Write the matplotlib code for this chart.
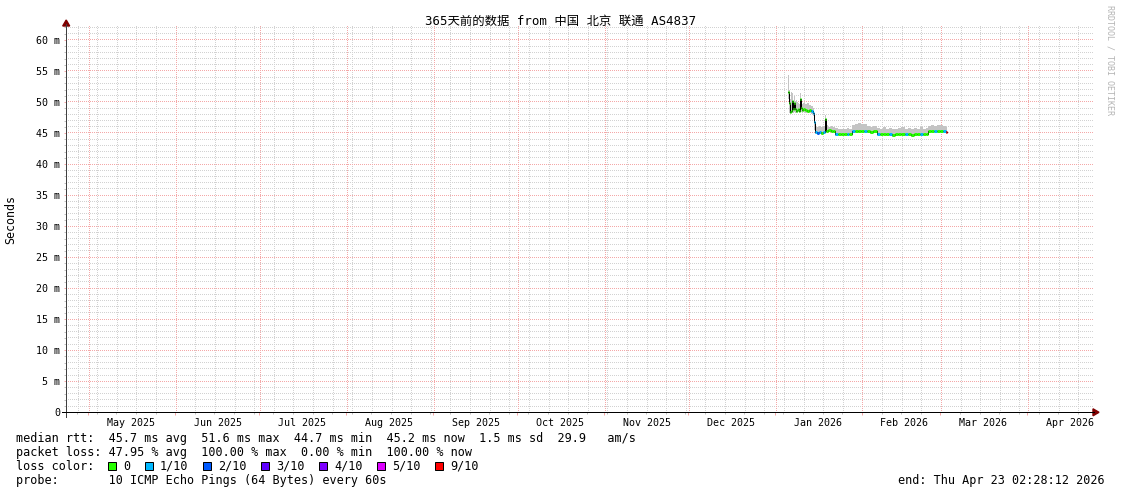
import matplotlib
matplotlib.use("Agg")
import numpy as np
import matplotlib.pyplot as plt
import matplotlib.dates as mdates
from matplotlib.lines import Line2D
from matplotlib.patches import Polygon, Rectangle
from matplotlib.transforms import IdentityTransform
from datetime import datetime, timedelta

# ---------------- data ----------------
title = "365天前的数据 from 中国 北京 联通 AS4837"
range_start = datetime(2025, 4, 23, 2, 28, 12)
range_end = datetime(2026, 4, 23, 2, 28, 12)

# sample times: days after 2026-01-01 00:00 (each value holds until the next sample)
day_2026 = [4.6, 5.0, 5.3, 5.7, 6.0, 6.4, 6.7, 7.1, 7.4, 7.8, 8.1, 8.5, 8.9, 9.2, 9.6,
            10.0, 10.7, 11.4, 12.1, 12.8, 13.5, 13.9, 14.2, 14.9, 15.6, 16.4, 17.1,
            17.8, 18.2, 19.0, 19.8, 20.6, 21.4, 22.5, 23.5, 24.6, 25.6, 26.5, 27.4,
            28.5, 29.6, 30.7, 31.8, 32.9, 34.0, 35.1, 36.3, 37.4, 38.5, 39.6, 40.7,
            41.8, 42.9, 44.0, 45.1, 46.2, 47.3, 48.4, 49.5, 50.6, 51.7, 52.8, 53.9,
            54.5, 55.6, 56.7, 57.8, 58.9, 60.0, 60.9]
last_day = 61.3
median_ms = [51.6, 49.8, 48.4, 48.6, 50.2, 48.8, 49.8, 48.9, 48.6, 48.7, 48.9, 48.6, 50.5, 49.0, 48.7,
             48.8, 48.7, 48.6, 48.7, 48.5, 48.2, 46.8, 45.1, 45.0, 45.1, 45.0, 45.1,
             47.3, 45.4, 45.5, 45.3, 45.4, 44.8, 44.8, 44.9, 44.8, 44.8, 44.9, 45.3,
             45.3, 45.4, 45.3, 45.3, 45.3, 45.2, 45.3, 44.8, 44.8, 44.9, 44.8, 44.8,
             44.7, 44.8, 44.8, 44.9, 44.8, 44.8, 44.7, 44.8, 44.8, 44.9, 44.8, 44.9,
             45.3, 45.4, 45.3, 45.3, 45.4, 45.3, 45.2]
loss_tenths = [0, 0, 0, 0, 0, 0, 0, 0, 0, 0, 0, 0, 0, 0, 0,
               0, 0, 0, 0, 1, 1, 1, 1, 2, 1, 0, 1,
               0, 0, 0, 0, 0, 1, 0, 0, 0, 1, 0, 1,
               0, 0, 0, 1, 0, 0, 0, 1, 0, 0, 0, 1,
               0, 0, 0, 0, 1, 0, 0, 0, 0, 1, 0, 0,
               0, 0, 1, 0, 0, 1, 9]
smoke_lo = [50.5, 48.3, 48.0, 48.2, 48.3, 48.3, 48.4, 48.3, 48.2, 48.3, 48.4, 48.2, 48.4, 48.4, 48.3,
            48.4, 48.3, 48.2, 48.3, 48.1, 47.8, 45.5, 44.8, 44.7, 44.8, 44.7, 44.8,
            45.5, 45.0, 45.1, 45.0, 45.0, 44.5, 44.5, 44.5, 44.5, 44.5, 44.6, 45.0,
            45.0, 45.0, 45.0, 45.0, 45.0, 44.9, 45.0, 44.5, 44.5, 44.6, 44.5, 44.5,
            44.4, 44.5, 44.5, 44.6, 44.5, 44.5, 44.4, 44.5, 44.5, 44.5, 44.5, 44.6,
            45.0, 45.0, 45.0, 45.0, 45.0, 45.0, 44.9]
smoke_hi = [54.3, 52.0, 50.5, 51.6, 51.5, 50.0, 51.0, 50.2, 50.3, 50.0, 49.8, 49.6, 51.5, 50.0, 49.7,
            49.8, 49.6, 49.8, 49.5, 49.4, 49.0, 48.0, 46.0, 45.9, 46.1, 46.0, 46.2,
            47.9, 46.3, 46.0, 46.1, 46.0, 45.8, 45.6, 45.7, 45.6, 45.8, 45.7, 46.3,
            46.5, 46.6, 46.4, 46.4, 46.2, 46.0, 46.1, 45.8, 45.7, 45.9, 45.7, 45.8,
            45.6, 45.7, 45.8, 45.9, 45.7, 45.8, 45.6, 45.8, 45.7, 45.9, 45.7, 45.8,
            46.2, 46.3, 46.2, 46.3, 46.3, 46.1, 46.0]

loss_labels = ["0", "1/10", "2/10", "3/10", "4/10", "5/10", "9/10"]
loss_levels = [0, 1, 2, 3, 4, 5, 9]
loss_colors = ["#26ff00", "#00b8ff", "#0059ff", "#5e00ff", "#7e00ff", "#dd00ff", "#ff0000"]

legend_rtt = "median rtt:  45.7 ms avg  51.6 ms max  44.7 ms min  45.2 ms now  1.5 ms sd  29.9   am/s"
legend_loss = "packet loss: 47.95 % avg  100.00 % max  0.00 % min  100.00 % now"
legend_probe = "probe:       10 ICMP Echo Pings (64 Bytes) every 60s"
legend_end = "end: Thu Apr 23 02:28:12 2026"

y_max_ms = 62.4

# ---------------- layout ----------------
W, H, DPI = 1121, 494, 100
MONO = "DejaVu Sans Mono"
fig = plt.figure(figsize=(W / DPI, H / DPI), dpi=DPI)
X0, X1, Y0, Y1 = 66.2, 1092.0, 412.3, 25.0
ax = fig.add_axes([X0 / W, 1 - Y0 / H, (X1 - X0) / W, (Y0 - Y1) / H])
for s in ax.spines.values():
    s.set_visible(False)

def fx(x):
    return x / W

def fy(y):
    return 1 - y / H

# x scale: 2.803 px per day starting at X0
x_days_visible = (X1 - X0) / 2.803
ax.set_xlim(mdates.date2num(range_start), mdates.date2num(range_start) + x_days_visible)
ax.set_ylim(0, y_max_ms)

grid_c = "#d2d2d2"
mgrid_c = "#f4a8a8"
px = 72 / DPI

months = [datetime(2025 + (m - 1) // 12, (m - 1) % 12 + 1, 1) for m in range(5, 17)]
weeks = []
d = datetime(2025, 4, 27)
while d < range_end:
    weeks.append(d)
    d += timedelta(days=7)

# dotted grid (1 px on / 1 px off), positions taken from the data transform
ident = IdentityTransform()
xl_pix = int(round(ax.transData.transform((ax.get_xlim()[0], 0))[0])) + 1
xr_pix = int(round(ax.transData.transform((ax.get_xlim()[1], 0))[0]))
yb_pix = int(round(ax.transData.transform((0, 0))[1])) + 1
yt_pix = int(round(ax.transData.transform((0, y_max_ms))[1]))

def hdots(v, color, z):
    yy = np.floor(ax.transData.transform((0, v))[1]) + 0.5
    xs = np.arange(xl_pix, xr_pix, 2) + 0.5
    ax.plot(xs, np.full_like(xs, yy), ls="none", marker=",", color=color,
            transform=ident, clip_on=False, zorder=z)

def vdots(dt, color, z):
    xx = np.floor(ax.transData.transform((mdates.date2num(dt), 0))[0]) + 0.5
    ys = np.arange(yb_pix, yt_pix, 2) + 0.5
    ax.plot(np.full_like(ys, xx), ys, ls="none", marker=",", color=color,
            transform=ident, clip_on=False, zorder=z)

for v in range(1, 63):
    if v % 5:
        hdots(v, grid_c, 1)
for w in weeks:
    vdots(w, grid_c, 1)
for v in range(5, 61, 5):
    hdots(v, mgrid_c, 2)
for m in months:
    vdots(m, mgrid_c, 2)

# ticks
ax.set_yticks(range(0, 61, 5))
ax.set_yticks(range(0, 63), minor=True)
ax.set_yticklabels(["0"] + ["%d m" % v for v in range(5, 61, 5)])
ax.set_xticks([mdates.date2num(m) for m in months])
ax.set_xticks([mdates.date2num(w) for w in weeks], minor=True)
ax.set_xticklabels([])
ax.tick_params(axis="both", which="major", direction="out", length=3 * px, width=px,
               color=mgrid_c, pad=4 * px)
ax.tick_params(axis="both", which="minor", direction="out", length=2 * px, width=px,
               color="#c0c0c0")
ax.tick_params(axis="y", which="major", length=2 * px)
for lab in ax.get_yticklabels():
    lab.set_fontfamily(MONO)
    lab.set_fontsize(7.2)

for m in months:
    c = mdates.date2num(m) + 15.15
    ax.annotate(m.strftime("%b %Y"), xy=(c, 0), xycoords=("data", "axes fraction"),
                xytext=(0, -6), textcoords="offset pixels", ha="center", va="top",
                fontfamily=MONO, fontsize=7.2, annotation_clip=False)

# smoke + median
base = datetime(2026, 1, 1)
t = [mdates.date2num(base + timedelta(days=x)) for x in day_2026]
t_end = mdates.date2num(base + timedelta(days=last_day))
edges = t + [t_end]
ax.fill_between(edges, smoke_lo + [smoke_lo[-1]], smoke_hi + [smoke_hi[-1]], step="post",
                color="#c4c4c4", lw=0, zorder=3)
ax.step(edges, median_ms + [median_ms[-1]], where="post", color="black", lw=1 * px, zorder=4)
for i in range(len(t)):
    col = loss_colors[loss_levels.index(loss_tenths[i])]
    ax.plot([edges[i], edges[i + 1]], [median_ms[i], median_ms[i]], color=col,
            lw=3 * px, solid_capstyle="butt", zorder=5)

# axes lines + arrows
fig.add_artist(Line2D([fx(X0), fx(X0)], [fy(416.5), fy(24)], color="#404040", lw=px))
fig.add_artist(Line2D([fx(62), fx(1094)], [fy(Y0), fy(Y0)], color="black", lw=px))
fig.add_artist(Polygon([[fx(X0 - 3.5), fy(26)], [fx(X0 + 3.5), fy(26)], [fx(X0), fy(20)]],
                       closed=True, color="#7f0000", transform=fig.transFigure))
fig.add_artist(Polygon([[fx(1093), fy(Y0 - 3.5)], [fx(1093), fy(Y0 + 3.5)], [fx(1099), fy(Y0)]],
                       closed=True, color="#7f0000", transform=fig.transFigure))

# texts
fig.text(fx(560.5), fy(21), title, ha="center", va="center", fontsize=8.9,
         fontfamily=[MONO, "Noto Sans CJK SC"])
fig.text(fx(10.5), fy(219), "Seconds", rotation=90, ha="center", va="center",
         fontsize=8.4, fontfamily=MONO)
fig.text(fx(1110), fy(5), "RRDTOOL / TOBI OETIKER", rotation=270, ha="center", va="top",
         fontsize=6.0, fontfamily=MONO, color="#b4b4b4")

lfs = 8.5
fig.text(fx(16), fy(441.5), legend_rtt, ha="left", va="baseline", fontsize=lfs, fontfamily=MONO)
fig.text(fx(16), fy(455.5), legend_loss, ha="left", va="baseline", fontsize=lfs, fontfamily=MONO)
fig.text(fx(16), fy(469.5), "loss color:", ha="left", va="baseline", fontsize=lfs, fontfamily=MONO)
fig.text(fx(16), fy(483.5), legend_probe, ha="left", va="baseline", fontsize=lfs, fontfamily=MONO)
fig.text(fx(1105), fy(483.5), legend_end, ha="right", va="baseline", fontsize=lfs, fontfamily=MONO)

sx = 108.0
for lab, col in zip(loss_labels, loss_colors):
    fig.add_artist(Rectangle((fx(sx), fy(470)), 8 / W, 8 / H, facecolor=col,
                             edgecolor="black", lw=px, transform=fig.transFigure))
    fig.text(fx(sx + 15), fy(469.5), lab, ha="left", va="baseline", fontsize=lfs, fontfamily=MONO)
    sx += 30 + 7 * len(lab)

fig.savefig("out.png", dpi=DPI)
